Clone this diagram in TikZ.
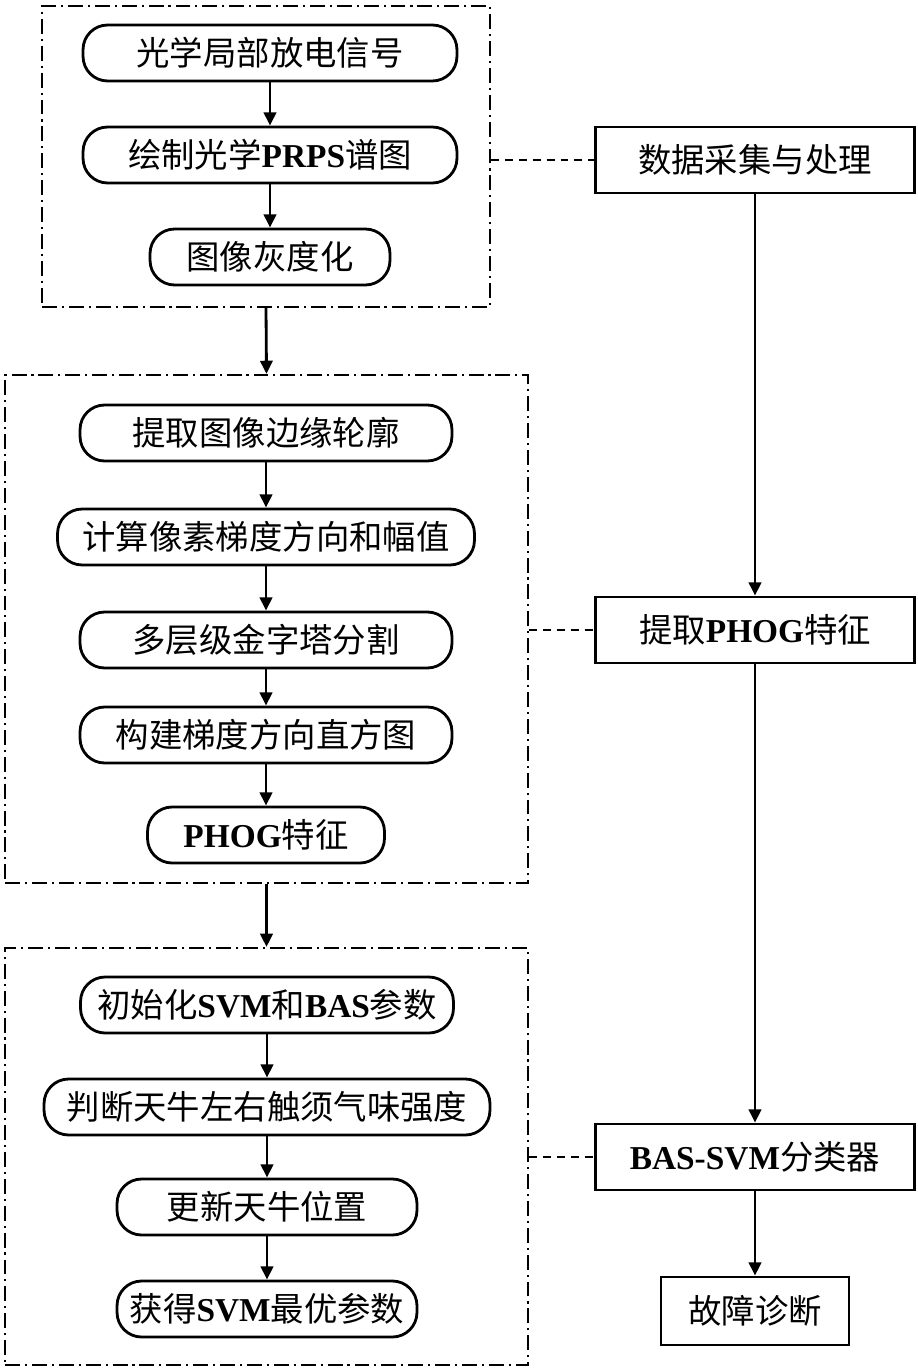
\documentclass[tikz,border=0pt]{standalone}
\usepackage{fontspec}
\setmainfont{Liberation Serif}
\newfontfamily\cjk{Noto Sans CJK SC}
\usetikzlibrary{arrows.meta}
\newcommand{\zh}[1]{{\cjk #1}}
\newcommand{\en}[1]{\textbf{#1}}

\begin{document}
\begin{tikzpicture}[x=0.02cm, y=-0.02cm, line width=1.6pt,
        font=\fontsize{19}{22}\selectfont,
        flow/.style={draw, rounded corners=14pt, minimum height=1.12cm, inner sep=0pt},
        task/.style={draw, minimum width=6.38cm, minimum height=1.32cm, inner sep=0pt},
        grp/.style={draw, line width=1.3pt, dash pattern=on 8.5pt off 2.8pt on 1.2pt off 2.8pt},
        link/.style={line width=1.3pt, dash pattern=on 4.5pt off 3.4pt},
        arr/.style={-{Triangle[length=7.5pt,width=7pt]}}]
    \useasboundingbox (0,0) rectangle (918,1371);

    % data acquisition and processing
    \node[grp, minimum width=8.96cm, minimum height=6.02cm] (g1) at (266,156.5) {};
    \node[flow, minimum width=7.48cm] (sig)  at (270,53)  {\zh{光学局部放电信号}};
    \node[flow, minimum width=7.48cm] (prps) at (270,155) {\zh{绘制光学}\en{PRPS}\zh{谱图}};
    \node[flow, minimum width=4.8cm]  (gray) at (270,257) {\zh{图像灰度化}};
    \draw[arr] (sig) -- (prps);
    \draw[arr] (prps) -- (gray);

    % PHOG feature extraction
    \node[grp, minimum width=10.46cm, minimum height=10.16cm] (g2) at (266.5,629) {};
    \node[flow, minimum width=7.44cm] (edge)  at (266,433) {\zh{提取图像边缘轮廓}};
    \node[flow, minimum width=8.34cm] (grad)  at (266,537) {\zh{计算像素梯度方向和幅值}};
    \node[flow, minimum width=7.44cm] (pyr)   at (266,640) {\zh{多层级金字塔分割}};
    \node[flow, minimum width=7.44cm] (hist)  at (266,735) {\zh{构建梯度方向直方图}};
    \node[flow, minimum width=4.74cm] (phog)  at (266,835) {\en{PHOG}\zh{特征}};
    \draw[arr] (edge) -- (grad);
    \draw[arr] (grad) -- (pyr);
    \draw[arr] (pyr) -- (hist);
    \draw[arr] (hist) -- (phog);

    % BAS optimisation of the SVM
    \node[grp, minimum width=10.46cm, minimum height=8.34cm] (g3) at (266.5,1156.5) {};
    \node[flow, minimum width=7.46cm] (init)  at (267,1005) {\zh{初始化}\en{SVM}\zh{和}\en{BAS}\zh{参数}};
    \node[flow, minimum width=8.92cm] (smell) at (267,1107) {\zh{判断天牛左右触须气味强度}};
    \node[flow, minimum width=6.0cm]  (move)  at (267,1207) {\zh{更新天牛位置}};
    \node[flow, minimum width=6.0cm]  (best)  at (267,1309) {\zh{获得}\en{SVM}\zh{最优参数}};
    \draw[arr] (init) -- (smell);
    \draw[arr] (smell) -- (move);
    \draw[arr] (move) -- (best);

    \draw[arr] (g1.south) -- (g2.north);
    \draw[arr] (g2.south) -- (g3.north);

    % main steps
    \node[task] (data) at (755,160)  {\zh{数据采集与处理}};
    \node[task] (feat) at (755,630)  {\zh{提取}\en{PHOG}\zh{特征}};
    \node[task] (clf)  at (755,1157) {\en{BAS-SVM}\zh{分类器}};
    \node[task, minimum width=3.76cm, minimum height=1.36cm] (diag) at (755,1311) {\zh{故障诊断}};
    \draw[arr] (data) -- (feat);
    \draw[arr] (feat) -- (clf);
    \draw[arr] (clf) -- (diag);

    \draw[link] (data -| g1.east) -- (data);
    \draw[link] (feat -| g2.east) -- (feat);
    \draw[link] (clf -| g3.east) -- (clf);
\end{tikzpicture}
\end{document}
